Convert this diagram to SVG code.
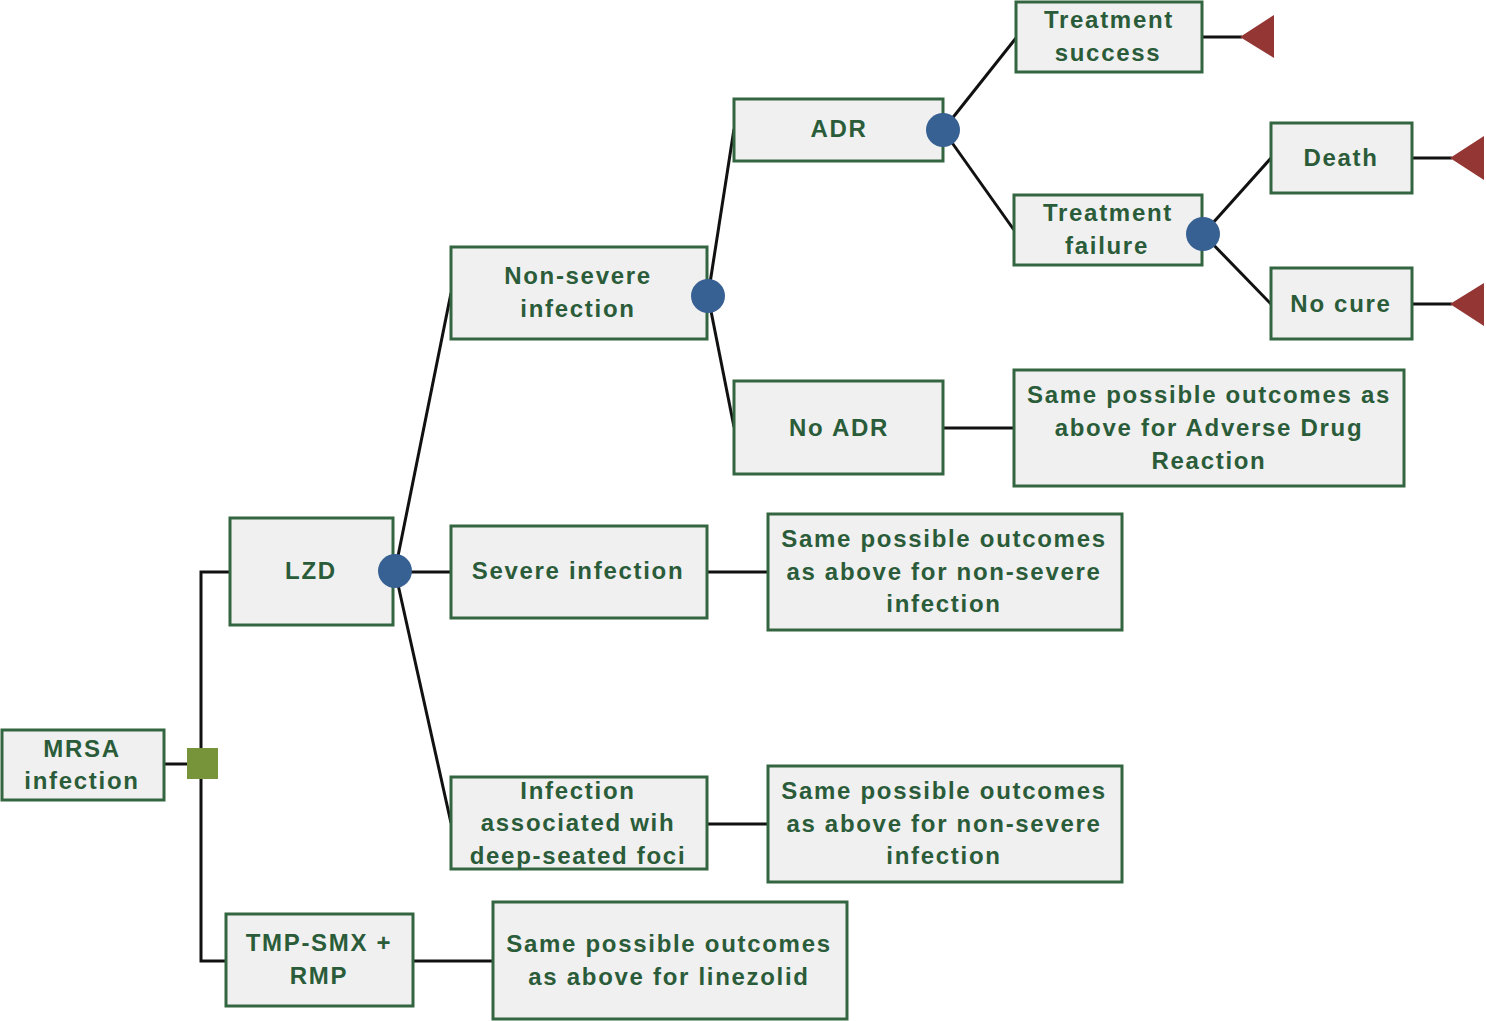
<svg xmlns="http://www.w3.org/2000/svg" width="1486" height="1021" viewBox="0 0 1486 1021">
<style>
.box{fill:#f0f0f0;stroke:#336640;stroke-width:3}
.t{font-family:"Liberation Sans",Arial,sans-serif;font-weight:bold;font-size:24px;fill:#2b5c39;text-anchor:middle;dominant-baseline:central;letter-spacing:1.7px}
.ln{stroke:#111;stroke-width:3;fill:none}
.chance{fill:#386193}
.term{fill:#943634}
</style>
<rect width="1486" height="1021" fill="#fff"/>
<g id="connectors">
<polyline class="ln" points="164,764 187,764"/>
<polyline class="ln" points="230,572 201,572 201,961 226,961"/>
<line class="ln" x1="395" y1="571" x2="451" y2="293"/>
<line class="ln" x1="395" y1="572" x2="451" y2="572"/>
<line class="ln" x1="395" y1="571" x2="451" y2="823"/>
<line class="ln" x1="707" y1="572" x2="768" y2="572"/>
<line class="ln" x1="707" y1="824" x2="768" y2="824"/>
<line class="ln" x1="413" y1="961" x2="493" y2="961"/>
<line class="ln" x1="708" y1="296" x2="734" y2="129"/>
<line class="ln" x1="708" y1="296" x2="734" y2="427"/>
<line class="ln" x1="943" y1="428" x2="1014" y2="428"/>
<line class="ln" x1="943" y1="130" x2="1016" y2="38"/>
<line class="ln" x1="943" y1="130" x2="1014" y2="230"/>
<line class="ln" x1="1203" y1="234" x2="1271" y2="158"/>
<line class="ln" x1="1203" y1="234" x2="1271" y2="304"/>
<line class="ln" x1="1202" y1="37" x2="1242" y2="37"/>
<line class="ln" x1="1412" y1="158" x2="1452" y2="158"/>
<line class="ln" x1="1412" y1="304" x2="1452" y2="304"/>
</g>
<g id="mrsa"><rect class="box" x="2" y="730" width="162" height="70"/><text class="t" x="82" y="748">MRSA</text><text class="t" x="82" y="780">infection</text></g>
<g id="decision"><rect x="187" y="748" width="31" height="31" fill="#78943a"/></g>
<g id="lzd"><rect class="box" x="230" y="518" width="163" height="107"/><text class="t" x="311" y="570">LZD</text></g>
<g id="tmp"><rect class="box" x="226" y="914" width="187" height="92"/><text class="t" x="319" y="942">TMP-SMX +</text><text class="t" x="319" y="975">RMP</text></g>
<g id="nonsevere"><rect class="box" x="451" y="247" width="256" height="92"/><text class="t" x="578" y="275">Non-severe</text><text class="t" x="578" y="308">infection</text></g>
<g id="severe"><rect class="box" x="451" y="526" width="256" height="92"/><text class="t" x="578" y="570">Severe infection</text></g>
<g id="deep"><rect class="box" x="451" y="777" width="256" height="92"/><text class="t" x="578" y="790">Infection</text><text class="t" x="578" y="822">associated wih</text><text class="t" x="578" y="855">deep-seated foci</text></g>
<g id="same-severe"><rect class="box" x="768" y="514" width="354" height="116"/><text class="t" x="944" y="538">Same possible outcomes</text><text class="t" x="944" y="571">as above for non-severe</text><text class="t" x="944" y="603">infection</text></g>
<g id="same-deep"><rect class="box" x="768" y="766" width="354" height="116"/><text class="t" x="944" y="790">Same possible outcomes</text><text class="t" x="944" y="823">as above for non-severe</text><text class="t" x="944" y="855">infection</text></g>
<g id="same-lzd"><rect class="box" x="493" y="902" width="354" height="117"/><text class="t" x="669" y="943">Same possible outcomes</text><text class="t" x="669" y="976">as above for linezolid</text></g>
<g id="adr"><rect class="box" x="734" y="99" width="209" height="62"/><text class="t" x="839" y="128">ADR</text></g>
<g id="noadr"><rect class="box" x="734" y="381" width="209" height="93"/><text class="t" x="839" y="427">No ADR</text></g>
<g id="same-adr"><rect class="box" x="1014" y="370" width="390" height="116"/><text class="t" x="1209" y="394">Same possible outcomes as</text><text class="t" x="1209" y="427">above for Adverse Drug</text><text class="t" x="1209" y="460">Reaction</text></g>
<g id="success"><rect class="box" x="1016" y="2" width="186" height="70"/><text class="t" x="1109" y="19">Treatment</text><text class="t" x="1108" y="52">success</text></g>
<g id="failure"><rect class="box" x="1014" y="195" width="188" height="70"/><text class="t" x="1108" y="212">Treatment</text><text class="t" x="1107" y="245">failure</text></g>
<g id="death"><rect class="box" x="1271" y="123" width="141" height="70"/><text class="t" x="1341" y="157">Death</text></g>
<g id="nocure"><rect class="box" x="1271" y="268" width="141" height="71"/><text class="t" x="1341" y="303">No cure</text></g>
<g id="chance-nodes">
<circle class="chance" cx="395" cy="571" r="17"/>
<circle class="chance" cx="708" cy="296" r="17"/>
<circle class="chance" cx="943" cy="130" r="17"/>
<circle class="chance" cx="1203" cy="234" r="17"/>
</g>
<g id="terminals">
<polygon class="term" points="1240,37 1274,15 1274,58"/>
<polygon class="term" points="1450,158 1484,136 1484,180"/>
<polygon class="term" points="1450,304 1484,283 1484,326"/>
</g>
</svg>
